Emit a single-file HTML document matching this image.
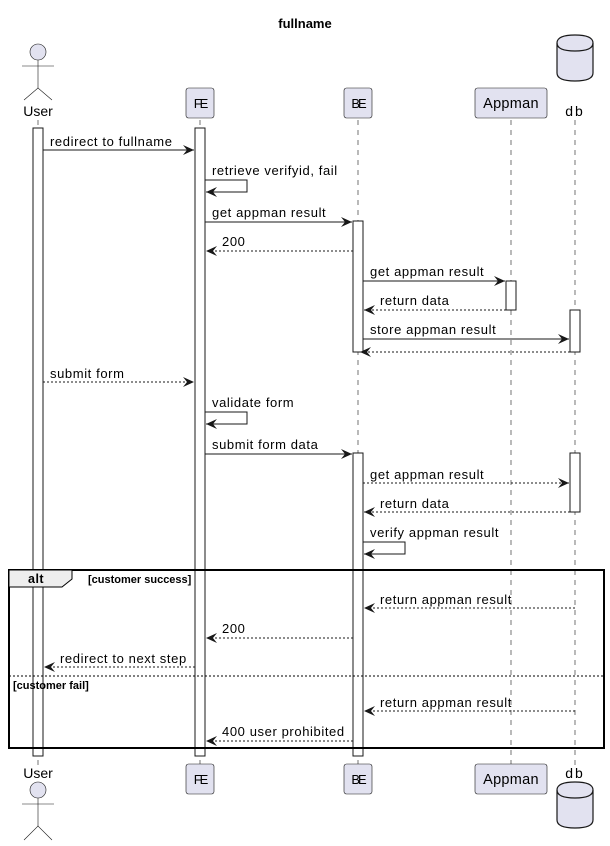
<!DOCTYPE html>
<html><head><meta charset="utf-8"><style>
html,body{margin:0;padding:0;background:#fff;}
svg{display:block;}
text{font-family:"Liberation Sans",sans-serif;fill:#000;}
</style></head><body>
<svg width="610" height="846" viewBox="0 0 610 846" xmlns="http://www.w3.org/2000/svg">
<defs>
<marker id="a" markerUnits="userSpaceOnUse" markerWidth="12" markerHeight="10" refX="11" refY="5" orient="auto">
<path d="M0,0 L11,5 L0,10 L4,5 Z" fill="#181818"/>
</marker>
</defs>
<text x="305" y="28" font-size="13" font-weight="bold" text-anchor="middle">fullname</text>

<g stroke="#181818" stroke-width="0.6" stroke-dasharray="5,5">
<line x1="38" y1="120" x2="38" y2="765"/>
<line x1="200" y1="120" x2="200" y2="765"/>
<line x1="358" y1="120" x2="358" y2="765"/>
<line x1="511" y1="120" x2="511" y2="765"/>
<line x1="575" y1="120" x2="575" y2="765"/>
</g>

<g fill="#E2E2F0" stroke="#181818" stroke-width="0.6">
<circle cx="38" cy="52" r="8"/>
<rect x="186" y="88" width="28" height="30" rx="2.5"/>
<rect x="344" y="88" width="28" height="30" rx="2.5"/>
<rect x="475" y="88" width="72" height="30" rx="2.5"/>
<rect x="186" y="764" width="28" height="30" rx="2.5"/>
<rect x="344" y="764" width="28" height="30" rx="2.5"/>
<rect x="475" y="764" width="72" height="30" rx="2.5"/>
<circle cx="38" cy="790" r="8"/>
</g>
<g stroke="#181818" stroke-width="0.6" fill="none">
<line x1="22" y1="66" x2="54" y2="66"/><line x1="38" y1="60" x2="38" y2="88"/>
<polyline points="24,100 38,88 52,100"/>
<line x1="22" y1="804" x2="54" y2="804"/><line x1="38" y1="798" x2="38" y2="826"/>
<polyline points="24,840 38,826 52,840"/>
</g>
<g fill="#E2E2F0" stroke="#181818" stroke-width="1.2">
<path d="M557,43 Q557,35 575,35 Q593,35 593,43 L593,73 Q593,81 575,81 Q557,81 557,73 Z"/>
<path d="M557,43 Q557,51 575,51 Q593,51 593,43" fill="none"/>
<path d="M557,790 Q557,782 575,782 Q593,782 593,790 L593,820 Q593,828 575,828 Q557,828 557,820 Z"/>
<path d="M557,790 Q557,798 575,798 Q593,798 593,790" fill="none"/>
</g>
<g font-size="14">
<text x="38" y="116" text-anchor="middle">User</text>
<text x="200" y="108" text-anchor="middle" font-size="13" letter-spacing="-2">FE</text>
<text x="358" y="108" text-anchor="middle" font-size="13" letter-spacing="-2">BE</text>
<text x="511" y="108" text-anchor="middle" font-size="14.5" letter-spacing="0.3">Appman</text>
<text x="575" y="116" text-anchor="middle" letter-spacing="2">db</text>
<text x="38" y="778" text-anchor="middle">User</text>
<text x="200" y="784" text-anchor="middle" font-size="13" letter-spacing="-2">FE</text>
<text x="358" y="784" text-anchor="middle" font-size="13" letter-spacing="-2">BE</text>
<text x="511" y="784" text-anchor="middle" font-size="14.5" letter-spacing="0.3">Appman</text>
<text x="575" y="778" text-anchor="middle" letter-spacing="2">db</text>
</g>

<g fill="#fff" stroke="#181818" stroke-width="1">
<rect x="33" y="128" width="10" height="628"/>
<rect x="195" y="128" width="10" height="628"/>
<rect x="353" y="221" width="10" height="131"/>
<rect x="353" y="453" width="10" height="303"/>
<rect x="506" y="281" width="10" height="29"/>
<rect x="570" y="310" width="10" height="42"/>
<rect x="570" y="453" width="10" height="59"/>
</g>

<g stroke="#181818" stroke-width="1" fill="none" marker-end="url(#a)">
<line x1="43" y1="150" x2="194" y2="150"/>
<polyline points="205,180 247,180 247,192 206,192"/>
<line x1="205" y1="222" x2="352" y2="222"/>
<line x1="353" y1="251" x2="206" y2="251" stroke-dasharray="2,2"/>
<line x1="363" y1="281" x2="505" y2="281"/>
<line x1="506" y1="310" x2="364" y2="310" stroke-dasharray="2,2"/>
<line x1="363" y1="339" x2="569" y2="339"/>
<line x1="570" y1="352" x2="360" y2="352" stroke-dasharray="2,2"/>
<line x1="43" y1="382" x2="194" y2="382" stroke-dasharray="2,2"/>
<polyline points="205,412 247,412 247,424 206,424"/>
<line x1="205" y1="454" x2="352" y2="454"/>
<line x1="363" y1="483" x2="569" y2="483" stroke-dasharray="2,2"/>
<line x1="570" y1="512" x2="364" y2="512" stroke-dasharray="2,2"/>
<polyline points="363,542 405,542 405,554 364,554"/>
<line x1="575" y1="608" x2="364" y2="608" stroke-dasharray="2,2"/>
<line x1="353" y1="638" x2="206" y2="638" stroke-dasharray="2,2"/>
<line x1="195" y1="667" x2="44" y2="667" stroke-dasharray="2,2"/>
<line x1="575" y1="711" x2="364" y2="711" stroke-dasharray="2,2"/>
<line x1="353" y1="741" x2="206" y2="741" stroke-dasharray="2,2"/>
</g>
<g font-size="13" letter-spacing="0.6">
<text x="50" y="146">redirect to fullname</text>
<text x="212" y="175">retrieve verifyid, fail</text>
<text x="212" y="217">get appman result</text>
<text x="222" y="246">200</text>
<text x="370" y="276">get appman result</text>
<text x="380" y="305">return data</text>
<text x="370" y="334">store appman result</text>
<text x="50" y="378">submit form</text>
<text x="212" y="407">validate form</text>
<text x="212" y="449">submit form data</text>
<text x="370" y="479">get appman result</text>
<text x="380" y="508">return data</text>
<text x="370" y="537">verify appman result</text>
<text x="380" y="604">return appman result</text>
<text x="222" y="633">200</text>
<text x="60" y="663">redirect to next step</text>
<text x="380" y="707">return appman result</text>
<text x="222" y="736">400 user prohibited</text>
</g>

<rect x="9" y="570" width="595" height="178" fill="none" stroke="#000" stroke-width="2"/>
<path d="M9,570 L72,570 L72,579 L62,587 L9,587 Z" fill="#EEEEEE" stroke="#000" stroke-width="1"/>
<text x="28" y="583" font-size="12.5" font-weight="bold" letter-spacing="0.5">alt</text>
<text x="88" y="583" font-size="11" font-weight="bold">[customer success]</text>
<line x1="9" y1="676" x2="604" y2="676" stroke="#000" stroke-width="1" stroke-dasharray="2,2"/>
<text x="13" y="689" font-size="11" font-weight="bold">[customer fail]</text>
</svg>
</body></html>
